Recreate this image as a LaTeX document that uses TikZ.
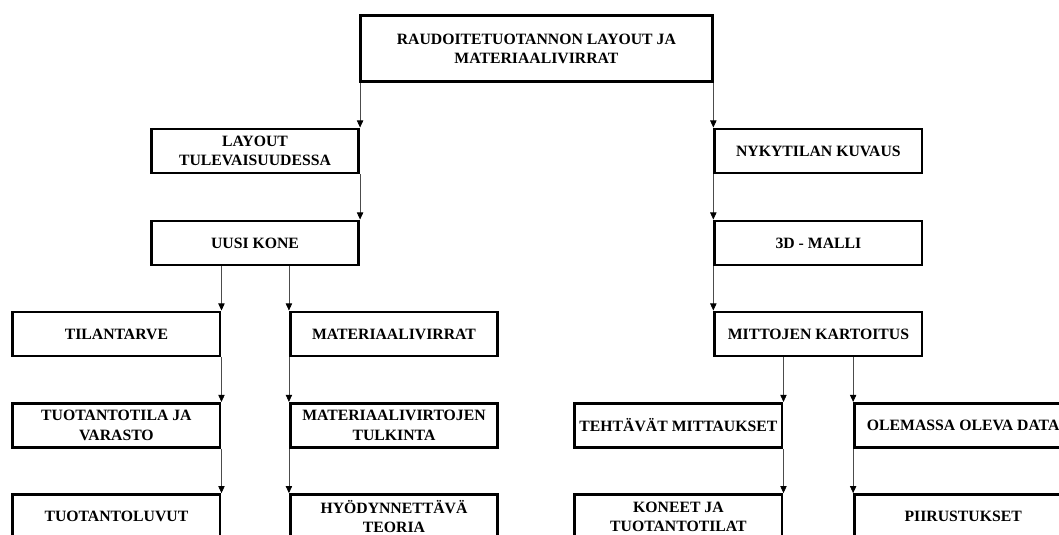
\documentclass[tikz,border=0pt]{standalone}
\usepackage{fontspec}
\setmainfont{Liberation Serif}
\usetikzlibrary{arrows.meta}

\begin{document}
\begin{tikzpicture}[
  box/.style={draw, line width=2.1pt, minimum width=5.18cm, minimum height=1.1cm, align=center, inner sep=1pt, font=\fontsize{11.2}{13.6}\selectfont\bfseries},
  arrow/.style={-{Triangle[width=4.5pt,length=5pt,color=black]}, draw=black!70, line width=0.5pt}
]
  \useasboundingbox (0,0) rectangle (26.475,13.375);
  \clip (0,0) rectangle (26.475,13.375);

  % Main topic
  \node[box, minimum width=8.8cm, minimum height=1.65cm] (top) at (13.41, 12.16) {RAUDOITETUOTANNON LAYOUT JA\\MATERIAALIVIRRAT};

  % Left branch
  \node[box] (layout) at (6.375, 9.6) {LAYOUT\\TULEVAISUUDESSA};
  \node[box] (uusikone) at (6.375, 7.3) {UUSI KONE};

  \node[box] (tilantarve) at (2.91, 5.025) {TILANTARVE};
  \node[box] (tuotantotila) at (2.91, 2.74) {TUOTANTOTILA JA\\VARASTO};
  \node[box] (luvut) at (2.91, 0.46) {TUOTANTOLUVUT};

  \node[box] (matvirrat) at (9.85, 5.025) {MATERIAALIVIRRAT};
  \node[box] (tulkinta) at (9.85, 2.74) {MATERIAALIVIRTOJEN\\TULKINTA};
  \node[box] (teoria) at (9.85, 0.46) {HYÖDYNNETTÄVÄ\\TEORIA};

  % Right branch
  \node[box] (nykytila) at (20.46, 9.6) {NYKYTILAN KUVAUS};
  \node[box] (malli) at (20.46, 7.3) {3D - MALLI};
  \node[box] (mittojen) at (20.46, 5.025) {MITTOJEN KARTOITUS};

  \node[box] (tehtavat) at (16.96, 2.74) {TEHTÄVÄT MITTAUKSET};
  \node[box] (koneet) at (16.96, 0.46) {KONEET JA\\TUOTANTOTILAT};

  \node[box, minimum width=5.43cm] (olemassa) at (24.08, 2.74) {OLEMASSA OLEVA DATA};
  \node[box, minimum width=5.43cm] (piirustukset) at (24.08, 0.46) {PIIRUSTUKSET};

  % Arrows
  \draw[arrow] (top.south -| layout.north east) -- (layout.north east);
  \draw[arrow] (layout.south east) -- (uusikone.north east);
  \draw[arrow] (uusikone.south -| tilantarve.north east) -- (tilantarve.north east);
  \draw[arrow] (uusikone.south -| matvirrat.north west) -- (matvirrat.north west);
  \draw[arrow] (tilantarve.south east) -- (tuotantotila.north east);
  \draw[arrow] (tuotantotila.south east) -- (luvut.north east);
  \draw[arrow] (matvirrat.south west) -- (tulkinta.north west);
  \draw[arrow] (tulkinta.south west) -- (teoria.north west);

  \draw[arrow] (top.south -| nykytila.north west) -- (nykytila.north west);
  \draw[arrow] (nykytila.south west) -- (malli.north west);
  \draw[arrow] (malli.south west) -- (mittojen.north west);
  \draw[arrow] (mittojen.south -| tehtavat.north east) -- (tehtavat.north east);
  \draw[arrow] (mittojen.south -| olemassa.north west) -- (olemassa.north west);
  \draw[arrow] (tehtavat.south east) -- (koneet.north east);
  \draw[arrow] (olemassa.south west) -- (piirustukset.north west);

\end{tikzpicture}
\end{document}
